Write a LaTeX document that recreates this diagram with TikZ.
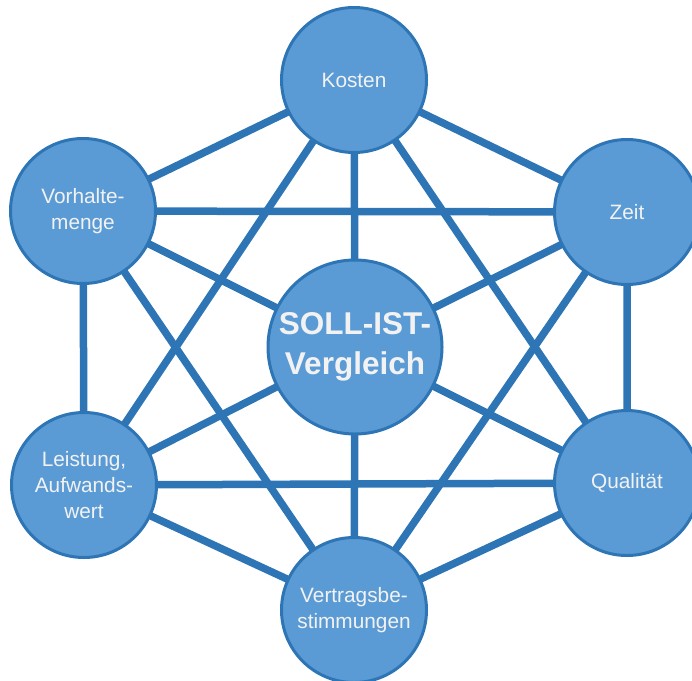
\documentclass[tikz,border=0pt]{standalone}
\usepackage{fontspec}
\setmainfont{Liberation Sans}
\usetikzlibrary{backgrounds}
\definecolor{nodefill}{HTML}{5B9BD5}
\definecolor{nodeline}{HTML}{2E75B6}
\definecolor{linkcol}{HTML}{2E75B6}
\definecolor{txtcol}{HTML}{F2F2F2}
\tikzset{
  topic/.style={circle, draw=nodeline, line width=3pt, fill=nodefill,
    minimum size=145pt, inner sep=0pt, align=center, text=txtcol,
    font=\fontsize{20.8}{26}\selectfont},
  hub/.style={topic, minimum size=174pt,
    font=\fontsize{31.5}{40}\selectfont\bfseries},
  link/.style={draw=linkcol, line width=7.5pt}
}
\begin{document}
\begin{tikzpicture}[x=1pt,y=-1pt]
\useasboundingbox (0,0) rectangle (692,680);
\node[topic] (kosten) at (354,80) {Kosten};
\node[topic] (zeit) at (627,212) {Zeit};
\node[topic] (qual) at (627,483) {Qualität};
\node[topic] (vertrag) at (354,610) {Vertragsbe-\\stimmungen};
\node[topic] (leist) at (84,485) {Leistung,\\Aufwands-\\wert};
\node[topic] (vorh) at (83,211) {Vorhalte-\\menge};
\node[hub] (mid) at (355,347) {SOLL-IST-\\Vergleich};
\begin{pgfonlayer}{background}
  % outer ring
  \draw[link] (kosten.center) -- (zeit.center) -- (qual.center) -- (vertrag.center)
    -- (leist.center) -- (vorh.center) -- (kosten.center);
  % chords that pass beside the hub
  \draw[link] (kosten.center) -- (qual.center);
  \draw[link] (kosten.center) -- (leist.center);
  \draw[link] (zeit.center) -- (vorh.center);
  \draw[link] (zeit.center) -- (vertrag.center);
  \draw[link] (qual.center) -- (leist.center);
  \draw[link] (vertrag.center) -- (vorh.center);
  % spokes to the hub
  \foreach \n in {kosten,zeit,qual,vertrag,leist,vorh}
    \draw[link] (mid.center) -- (\n.center);
\end{pgfonlayer}
\end{tikzpicture}
\end{document}
